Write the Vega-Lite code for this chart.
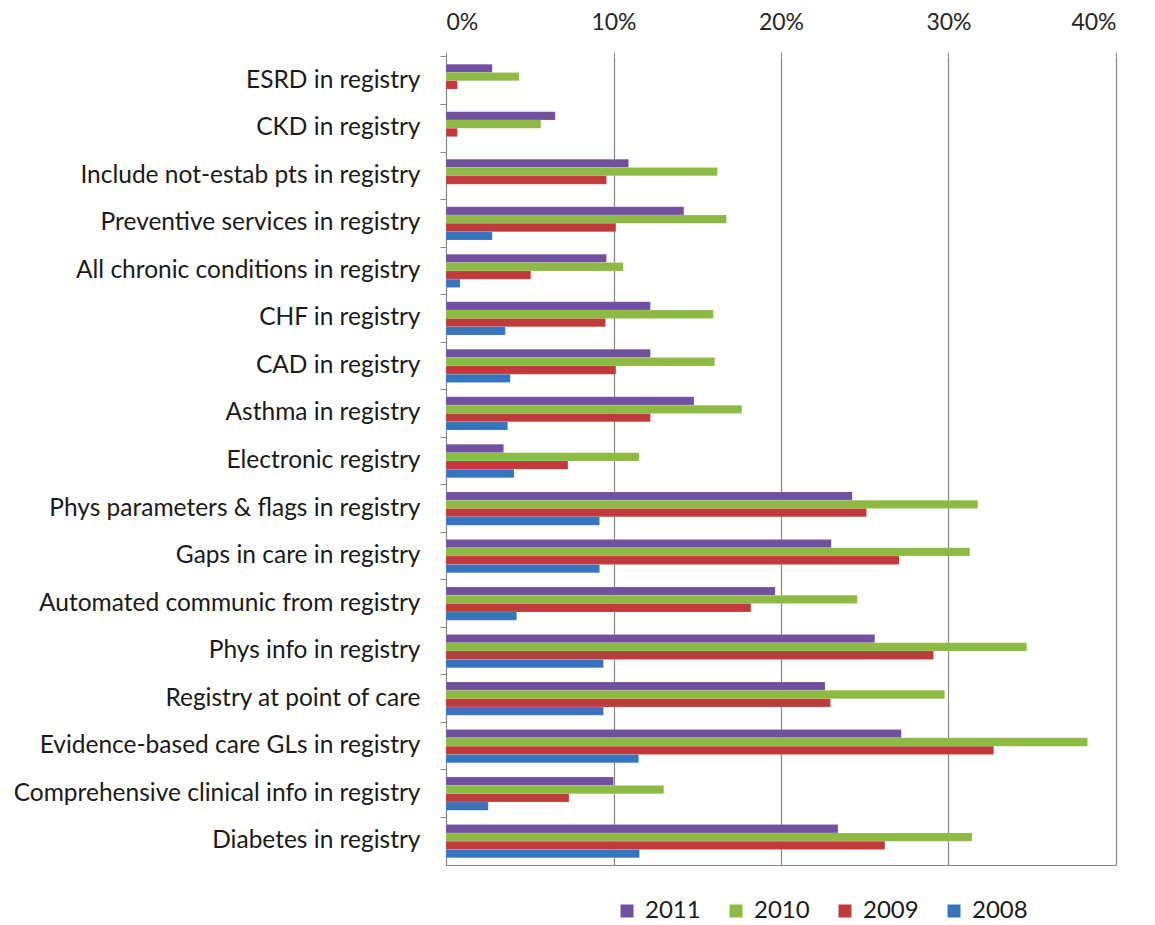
{
  "$schema": "https://vega.github.io/schema/vega-lite/v6.json",
  "width": 670,
  "height": 808,
  "autosize": {"type": "none"},
  "padding": {"left": 446, "top": 57, "right": 39, "bottom": 60},
  "background": "white",
  "config": {"view": {"stroke": null}, "font": "Lato"},
  "data": {"values": [
    {"cat": "ESRD in registry", "year": "2011", "value": 0.0276},
    {"cat": "ESRD in registry", "year": "2010", "value": 0.0436},
    {"cat": "ESRD in registry", "year": "2009", "value": 0.0068},
    {"cat": "CKD in registry", "year": "2011", "value": 0.0652},
    {"cat": "CKD in registry", "year": "2010", "value": 0.0566},
    {"cat": "CKD in registry", "year": "2009", "value": 0.0068},
    {"cat": "Include not-estab pts in registry", "year": "2011", "value": 0.109},
    {"cat": "Include not-estab pts in registry", "year": "2010", "value": 0.162},
    {"cat": "Include not-estab pts in registry", "year": "2009", "value": 0.0958},
    {"cat": "Preventive services in registry", "year": "2011", "value": 0.142},
    {"cat": "Preventive services in registry", "year": "2010", "value": 0.1674},
    {"cat": "Preventive services in registry", "year": "2009", "value": 0.1014},
    {"cat": "Preventive services in registry", "year": "2008", "value": 0.0276},
    {"cat": "All chronic conditions in registry", "year": "2011", "value": 0.0958},
    {"cat": "All chronic conditions in registry", "year": "2010", "value": 0.1058},
    {"cat": "All chronic conditions in registry", "year": "2009", "value": 0.0506},
    {"cat": "All chronic conditions in registry", "year": "2008", "value": 0.0084},
    {"cat": "CHF in registry", "year": "2011", "value": 0.122},
    {"cat": "CHF in registry", "year": "2010", "value": 0.1596},
    {"cat": "CHF in registry", "year": "2009", "value": 0.0952},
    {"cat": "CHF in registry", "year": "2008", "value": 0.0354},
    {"cat": "CAD in registry", "year": "2011", "value": 0.122},
    {"cat": "CAD in registry", "year": "2010", "value": 0.1604},
    {"cat": "CAD in registry", "year": "2009", "value": 0.1014},
    {"cat": "CAD in registry", "year": "2008", "value": 0.0384},
    {"cat": "Asthma in registry", "year": "2011", "value": 0.148},
    {"cat": "Asthma in registry", "year": "2010", "value": 0.1766},
    {"cat": "Asthma in registry", "year": "2009", "value": 0.122},
    {"cat": "Asthma in registry", "year": "2008", "value": 0.0368},
    {"cat": "Electronic registry", "year": "2011", "value": 0.0344},
    {"cat": "Electronic registry", "year": "2010", "value": 0.1152},
    {"cat": "Electronic registry", "year": "2009", "value": 0.0728},
    {"cat": "Electronic registry", "year": "2008", "value": 0.0406},
    {"cat": "Phys parameters & flags in registry", "year": "2011", "value": 0.2425},
    {"cat": "Phys parameters & flags in registry", "year": "2010", "value": 0.3175},
    {"cat": "Phys parameters & flags in registry", "year": "2009", "value": 0.251},
    {"cat": "Phys parameters & flags in registry", "year": "2008", "value": 0.0917},
    {"cat": "Gaps in care in registry", "year": "2011", "value": 0.23},
    {"cat": "Gaps in care in registry", "year": "2010", "value": 0.3127},
    {"cat": "Gaps in care in registry", "year": "2009", "value": 0.2705},
    {"cat": "Gaps in care in registry", "year": "2008", "value": 0.0917},
    {"cat": "Automated communic from registry", "year": "2011", "value": 0.1965},
    {"cat": "Automated communic from registry", "year": "2010", "value": 0.2455},
    {"cat": "Automated communic from registry", "year": "2009", "value": 0.182},
    {"cat": "Automated communic from registry", "year": "2008", "value": 0.0422},
    {"cat": "Phys info in registry", "year": "2011", "value": 0.256},
    {"cat": "Phys info in registry", "year": "2010", "value": 0.3467},
    {"cat": "Phys info in registry", "year": "2009", "value": 0.291},
    {"cat": "Phys info in registry", "year": "2008", "value": 0.094},
    {"cat": "Registry at point of care", "year": "2011", "value": 0.2263},
    {"cat": "Registry at point of care", "year": "2010", "value": 0.2977},
    {"cat": "Registry at point of care", "year": "2009", "value": 0.2295},
    {"cat": "Registry at point of care", "year": "2008", "value": 0.094},
    {"cat": "Evidence-based care GLs in registry", "year": "2011", "value": 0.2718},
    {"cat": "Evidence-based care GLs in registry", "year": "2010", "value": 0.383},
    {"cat": "Evidence-based care GLs in registry", "year": "2009", "value": 0.327},
    {"cat": "Evidence-based care GLs in registry", "year": "2008", "value": 0.115},
    {"cat": "Comprehensive clinical info in registry", "year": "2011", "value": 0.1},
    {"cat": "Comprehensive clinical info in registry", "year": "2010", "value": 0.13},
    {"cat": "Comprehensive clinical info in registry", "year": "2009", "value": 0.0734},
    {"cat": "Comprehensive clinical info in registry", "year": "2008", "value": 0.0252},
    {"cat": "Diabetes in registry", "year": "2011", "value": 0.234},
    {"cat": "Diabetes in registry", "year": "2010", "value": 0.314},
    {"cat": "Diabetes in registry", "year": "2009", "value": 0.262},
    {"cat": "Diabetes in registry", "year": "2008", "value": 0.1155}
  ]},
  "resolve": {"axis": {"x": "independent", "y": "independent"}},
  "layer": [
    {
      "mark": {"type": "bar", "stroke": "#ffffff", "strokeOpacity": 0.25, "strokeWidth": 0.5},
      "encoding": {
        "y": {
          "field": "cat", "type": "nominal", "sort": null,
          "scale": {"paddingInner": 0.3, "paddingOuter": 0.15},
          "axis": {"title": null, "orient": "left", "ticks": false, "domain": true, "domainColor": "#868686", "domainWidth": 1, "labelFontSize": 24.5, "labelColor": "#1a1a1a", "labelPadding": 26, "labelLimit": 600, "grid": false}
        },
        "x": {
          "field": "value", "type": "quantitative",
          "scale": {"domain": [0, 0.4], "nice": false},
          "axis": {"title": null, "orient": "top", "format": ".0%", "values": [0, 0.1, 0.2, 0.3, 0.4], "labelFontSize": 23, "labelColor": "#262626", "labelPadding": 18, "tickSize": 5, "tickColor": "#868686", "domain": false, "grid": true, "gridColor": "#868686", "gridWidth": 1.2}
        },
        "yOffset": {"field": "year", "type": "nominal", "sort": ["2011", "2010", "2009", "2008"]},
        "color": {
          "field": "year", "type": "nominal",
          "scale": {"domain": ["2011", "2010", "2009", "2008"], "range": ["#7150A0", "#8DBA42", "#C0393B", "#3774BF"]},
          "legend": {"title": null, "orient": "none", "legendX": 169, "legendY": 842, "direction": "horizontal", "symbolType": "square", "symbolSize": 169, "symbolStrokeWidth": 0, "labelFontSize": 24, "labelColor": "#1a1a1a", "labelOffset": 6, "columnPadding": 23}
        }
      }
    },
    {
      "mark": {"type": "bar", "opacity": 0},
      "encoding": {
        "y": {
          "field": "cat", "type": "nominal", "sort": null,
          "axis": {"title": null, "orient": "left", "labels": false, "domain": false, "ticks": true, "tickColor": "#868686", "tickSize": 6, "bandPosition": -0.2143, "grid": false}
        },
        "x": {
          "field": "value", "type": "quantitative",
          "axis": {"title": null, "orient": "bottom", "labels": false, "ticks": false, "domain": true, "domainColor": "#868686", "grid": false}
        }
      }
    }
  ]
}
